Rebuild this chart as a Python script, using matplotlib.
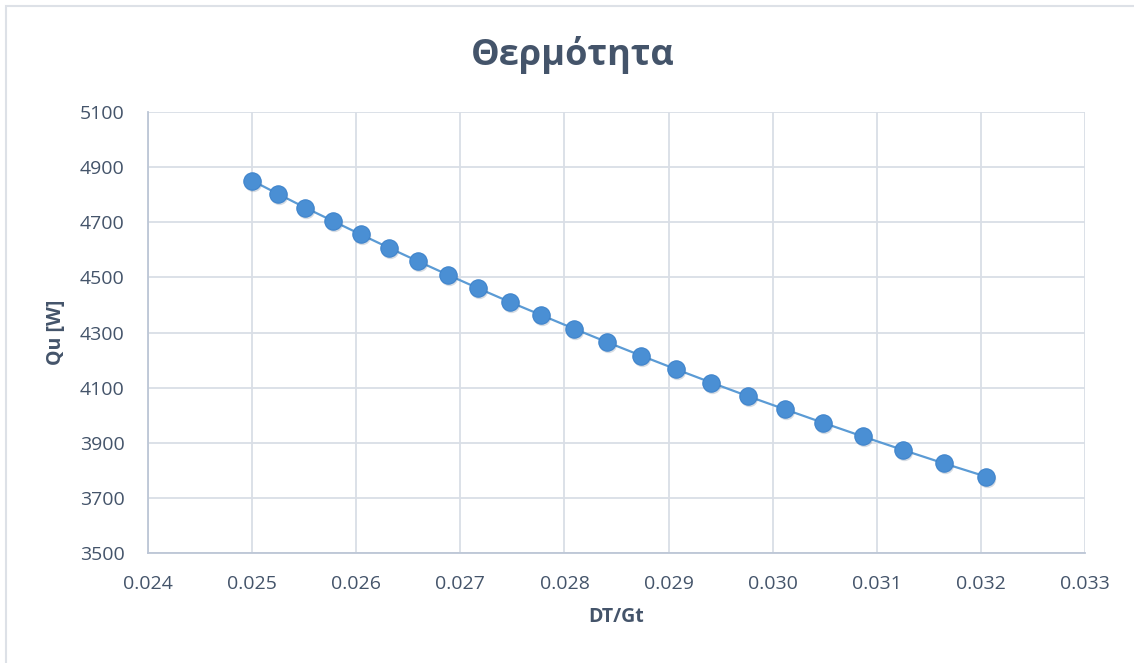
import matplotlib
matplotlib.use("Agg")
import matplotlib.pyplot as plt
from matplotlib.patches import Rectangle
from matplotlib.transforms import ScaledTranslation

# Ratio of temperature difference to irradiance, and useful heat gain
dt_over_gt = [0.025000, 0.025253, 0.025510, 0.025773, 0.026042, 0.026316,
              0.026596, 0.026882, 0.027174, 0.027473, 0.027778, 0.028090,
              0.028409, 0.028736, 0.029070, 0.029412, 0.029762, 0.030120,
              0.030488, 0.030864, 0.031250, 0.031646, 0.032051]
qu_watts = [4851, 4802, 4753, 4705, 4656, 4607, 4558, 4509, 4460, 4411,
            4363, 4314, 4265, 4216, 4167, 4118, 4069, 4021, 3972, 3923,
            3874, 3825, 3777]

x_ticks = [0.024, 0.025, 0.026, 0.027, 0.028, 0.029, 0.030, 0.031, 0.032, 0.033]
y_ticks = [3500, 3700, 3900, 4100, 4300, 4500, 4700, 4900, 5100]

title = "Θερμότητα"
x_label = "DT/Gt"
y_label = "Qu [W]"

text_color = "#44546A"
grid_color = "#D9DEE6"
axis_color = "#BCC6D6"
series_color = "#5B9BD5"

plt.rcParams["font.family"] = ["Open Sans", "DejaVu Sans"]

fig = plt.figure(figsize=(11.34, 6.63), dpi=100)
fig.patch.set_facecolor("white")

# Outer chart frame
fig.patches.append(Rectangle((6 / 1134, -0.05), 1.2, 1 - 6 / 663 + 0.05,
                             transform=fig.transFigure, fill=False,
                             edgecolor="#DDE1E7", linewidth=1.5))

ax = fig.add_axes([148 / 1134, 1 - 553 / 663, (1085 - 148) / 1134, (553 - 112) / 663])

ax.plot(dt_over_gt, qu_watts, color=series_color, linewidth=1.6, zorder=3)
# soft shadow under the markers
ax.plot(dt_over_gt, qu_watts, linestyle="none", marker="o", markersize=12.5,
        color="#1F3F66", alpha=0.18, markeredgewidth=0, zorder=3,
        transform=ax.transData + ScaledTranslation(1 / 100, -2 / 100, fig.dpi_scale_trans))
ax.plot(dt_over_gt, qu_watts, linestyle="none", marker="o", markersize=12.5,
        markerfacecolor="#4A8FD4", markeredgecolor="#3F84CC",
        markeredgewidth=0.8, zorder=4)

ax.set_xlim(0.024, 0.033)
ax.set_ylim(3500, 5100)
ax.set_xticks(x_ticks)
ax.set_xticklabels([f"{v:.3f}" for v in x_ticks])
ax.set_yticks(y_ticks)
ax.set_yticklabels([str(v) for v in y_ticks])

ax.grid(True, color=grid_color, linewidth=1.3, zorder=0)
ax.set_axisbelow(True)
for side in ("top", "right"):
    ax.spines[side].set_visible(False)
for side in ("left", "bottom"):
    ax.spines[side].set_color(axis_color)
    ax.spines[side].set_linewidth(1.3)

ax.tick_params(axis="both", length=0, labelsize=14, labelcolor=text_color)
ax.tick_params(axis="x", pad=16)
ax.tick_params(axis="y", pad=17)

ax.set_xlabel(x_label, fontsize=14, fontweight="bold", color=text_color, labelpad=10)
ax.set_ylabel(y_label, fontsize=14, fontweight="bold", color=text_color, labelpad=10)

fig.text(573 / 1134, 1 - 55 / 663, title, ha="center", va="center",
         fontsize=26, fontweight="bold", color=text_color)

fig.savefig("out.png", dpi=100, facecolor="white")
